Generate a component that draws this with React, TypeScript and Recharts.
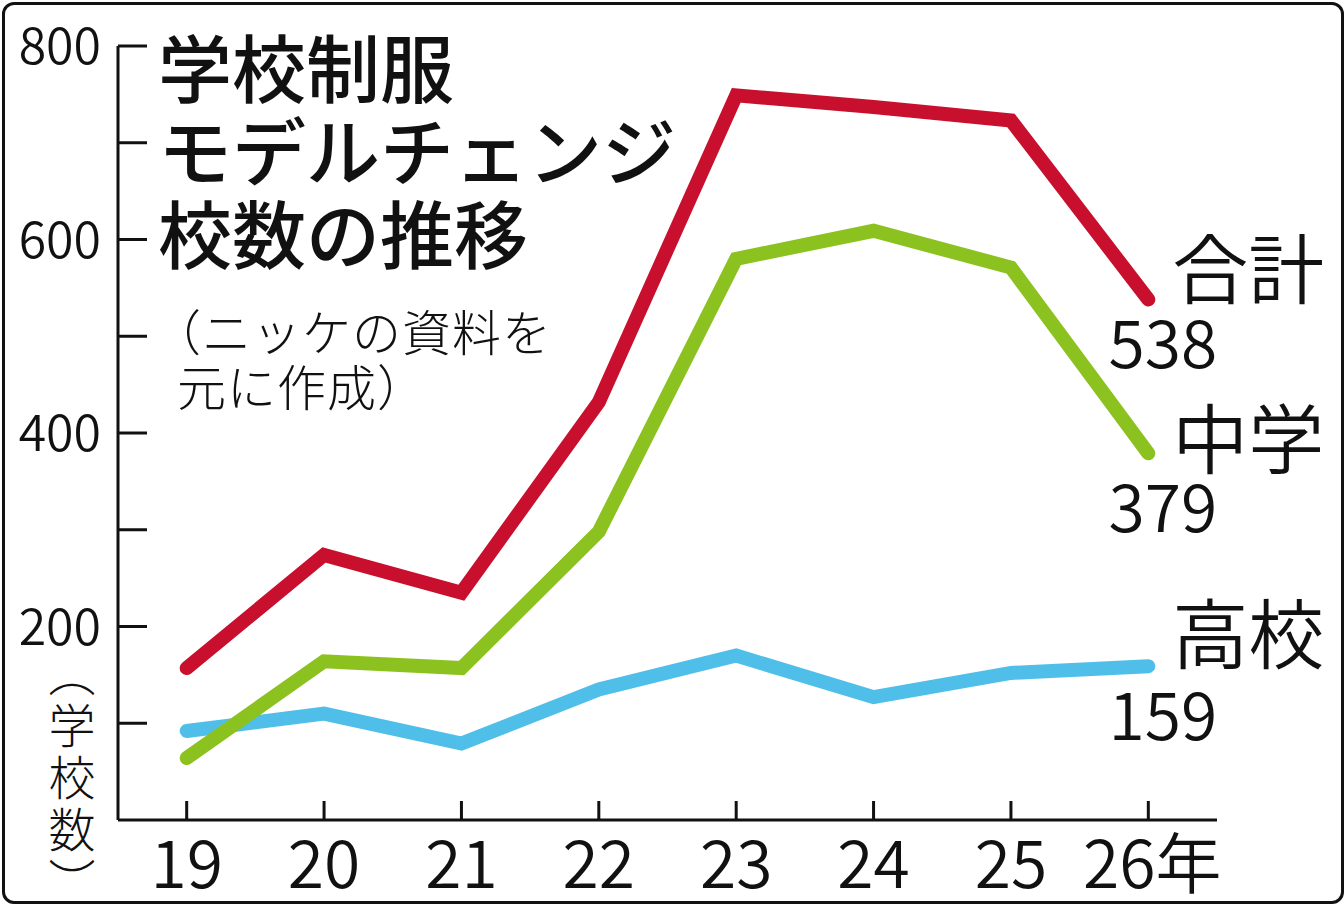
import React from 'react';
import { LineChart, Line, XAxis, YAxis } from 'recharts';

// 年度（下2桁）
const years = [19, 20, 21, 22, 23, 24, 25, 26];
// 合計・中学・高校のモデルチェンジ校数
const totalCounts = [157, 274, 235, 432, 749, 737, 723, 538];
const juniorCounts = [64, 164, 157, 298, 580, 609, 571, 379];
const highCounts = [92, 110, 79, 135, 170, 127, 152, 159];
const yTicks = [0, 100, 200, 300, 400, 500, 600, 700, 800];
const yLabelTicks = [200, 400, 600, 800];

const titleLines = ['学校制服', 'モデルチェンジ', '校数の推移'];
const noteLines = ['（ニッケの資料を', '元に作成）'];
const yAxisName = '（学校数）';
const yearSuffix = '年';

const data = years.map((y, i) => ({
  year: y,
  total: totalCounts[i],
  junior: juniorCounts[i],
  high: highCounts[i],
}));

const FONT = '"Noto Sans CJK JP", "Noto Sans", sans-serif';

// 右端ラベルの位置（最終点からのずれ）
const series = [
  { key: 'high', name: '高校', color: '#4fbfea', nameDy: -3, numDy: 74 },
  { key: 'total', name: '合計', color: '#c8102e', nameDy: -1, numDy: 69 },
  { key: 'junior', name: '中学', color: '#8cc21f', nameDy: 15, numDy: 79 },
];

const last = years.length - 1;

const YTick = (props: any) => {
  const { x, y, payload } = props;
  if (payload.value === 0) return null;
  return (
    <g>
      <line x1={x} x2={x + 29} y1={y} y2={y} stroke="#111" strokeWidth={3} />
      {yLabelTicks.includes(payload.value) && (
        <text x={x - 17} y={y + 18} textAnchor="end" fontSize={50} fontWeight={350} fontFamily={FONT} fill="#111">
          {payload.value}
        </text>
      )}
    </g>
  );
};

const XTick = (props: any) => {
  const { x, y, payload } = props;
  const isLast = payload.value === years[last];
  return (
    <g>
      <line x1={x} x2={x} y1={y} y2={y - 19} stroke="#111" strokeWidth={3} />
      <text
        x={isLast ? x + 4 : x}
        y={y + 68}
        textAnchor="middle"
        fontSize={66}
        fontWeight={350}
        fontFamily={FONT}
        fill="#111"
      >
        {payload.value}
        {isLast ? yearSuffix : ''}
      </text>
    </g>
  );
};

const makeEndLabel = (s: typeof series[number]) => (props: any) => {
  const { x, y, index, value } = props;
  if (index !== last) return null;
  return (
    <g>
      <text x={x + 24} y={y + s.nameDy} fontSize={76} fontWeight={350} fontFamily={FONT} fill="#111">
        {s.name}
      </text>
      <text x={x + 69} y={y + s.numDy} textAnchor="end" fontSize={66} fontWeight={350} fontFamily={FONT} fill="#111">
        {value}
      </text>
    </g>
  );
};

const App: React.FC = () => {
  return (
    <div style={{ position: 'absolute', left: 0, top: 0, width: 1344, height: 910, background: '#fff' }}>
      <div
        style={{
          position: 'absolute',
          left: 2,
          top: 2,
          width: 1336,
          height: 896,
          border: '3px solid #111',
          borderRadius: 12,
        }}
      />
      <div style={{ position: 'absolute', left: 0, top: 0 }}>
        <LineChart width={1344} height={910} data={data} margin={{ top: 46, right: 127, bottom: 0, left: 0 }}>
          <XAxis
            dataKey="year"
            type="number"
            domain={[18.5, 26.5]}
            ticks={years}
            axisLine={{ stroke: '#111', strokeWidth: 3 }}
            tickLine={false}
            tickSize={0}
            tickMargin={0}
            tick={<XTick />}
            height={90}
          />
          <YAxis
            type="number"
            domain={[0, 800]}
            ticks={yTicks}
            axisLine={{ stroke: '#111', strokeWidth: 3 }}
            tickLine={false}
            tickSize={0}
            tickMargin={0}
            tick={<YTick />}
            width={118}
          />
          {series.map((s) => (
            <Line
              key={s.key}
              type="linear"
              dataKey={s.key}
              stroke={s.color}
              strokeWidth={14}
              strokeLinecap="round"
              strokeLinejoin="miter"
              dot={false}
              activeDot={false}
              isAnimationActive={false}
              label={makeEndLabel(s)}
            />
          ))}
          <text fontFamily={FONT} fontWeight={500} fontSize={74} fill="#111">
            {titleLines.map((t, i) => (
              <tspan key={t} x={158} y={97 + i * 83}>
                {t}
              </tspan>
            ))}
          </text>
          <text fontFamily={FONT} fontWeight={300} fontSize={49} letterSpacing={1} fill="#111">
            <tspan x={152} y={351}>
              {noteLines[0]}
            </tspan>
            <tspan x={177} y={406}>
              {noteLines[1]}
            </tspan>
          </text>
          <text
            x={72}
            y={650}
            fontFamily={FONT}
            fontWeight={300}
            fontSize={47}
            letterSpacing={5}
            fill="#111"
            style={{ writingMode: 'vertical-rl' }}
          >
            {yAxisName}
          </text>
        </LineChart>
      </div>
    </div>
  );
};

export default App;
